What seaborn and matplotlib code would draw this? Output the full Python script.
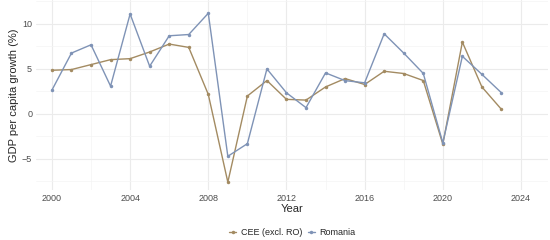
import matplotlib
matplotlib.use("Agg")
import numpy as np
import pandas as pd
import seaborn as sns
from matplotlib import pyplot as plt
from matplotlib.ticker import MultipleLocator

years = list(range(2000, 2024))
cee = [4.85, 4.93, 5.48, 6.03, 6.14, 6.88, 7.76, 7.39, 2.17, -7.57, 1.99, 3.71,
       1.62, 1.54, 3.0, 3.93, 3.27, 4.74, 4.49, 3.71, -3.35, 7.98, 3.0, 0.51]
romania = [2.65, 6.76, 7.68, 3.09, 11.1, 5.3, 8.68, 8.82, 11.18, -4.7, -3.3, 5.0,
           2.35, 0.7, 4.56, 3.7, 3.46, 8.9, 6.76, 4.5, -3.2, 6.4, 4.4, 2.35]
series_names = ["CEE (excl. RO)", "Romania"]
colors = ["#A38B62", "#7F93B6"]

df = pd.DataFrame({
    "Year": years * 2,
    "growth": cee + romania,
    "group": [series_names[0]] * len(years) + [series_names[1]] * len(years),
})

sns.set_theme(style="whitegrid")
plt.rcParams["font.family"] = ["Liberation Sans", "DejaVu Sans"]

fig, ax = plt.subplots(figsize=(5.5, 2.4), dpi=100)
fig.subplots_adjust(left=0.066, right=0.997, top=0.998, bottom=0.21)

sns.lineplot(data=df, x="Year", y="growth", hue="group", palette=colors,
             marker="o", markersize=2.5, markeredgewidth=0, linewidth=1,
             ax=ax)

ax.set_xlim(1999.2, 2025.4)
ax.set_ylim(-8.4, 12.6)
ax.xaxis.set_major_locator(MultipleLocator(4))
ax.xaxis.set_minor_locator(MultipleLocator(2))
ax.yaxis.set_major_locator(MultipleLocator(5))
ax.yaxis.set_minor_locator(MultipleLocator(2.5))
ax.grid(which="major", color="#EBEBEB", linewidth=0.8)
ax.grid(which="minor", color="#F4F4F4", linewidth=0.5)
for s in ax.spines.values():
    s.set_visible(False)
ax.tick_params(axis="both", which="both", length=0, labelsize=6.5,
               labelcolor="#4D4D4D", pad=3)

ax.set_xlabel("Year", fontsize=8, labelpad=1)
ax.set_ylabel("GDP per capita growth (%)", fontsize=8, labelpad=2)

ax.legend(title=None, loc="upper center", bbox_to_anchor=(0.5, -0.16),
          ncol=2, frameon=False, fontsize=6.5, handlelength=0.8,
          handletextpad=0.5, columnspacing=0.6)

plt.savefig("out.png", dpi=100)
